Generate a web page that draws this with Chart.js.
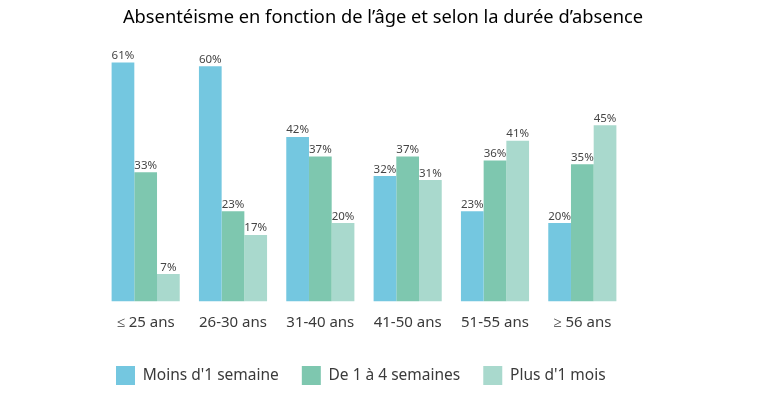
<!DOCTYPE html>
<html>
<head>
<meta charset="utf-8">
<script src="https://cdn.jsdelivr.net/npm/chart.js@4.4.1/dist/chart.umd.min.js"></script>
<style>
  html, body { margin: 0; padding: 0; background: #fff; }
  #zone { width: 778px; height: 399px; }
</style>
</head>
<body>
<div id="zone"><canvas id="absChart"></canvas></div>
<script>
// Tranches d'âge
const tranches = ['≤ 25 ans', '26-30 ans', '31-40 ans', '41-50 ans', '51-55 ans', '≥ 56 ans'];

// Durées d'absence (%)
const moinsUneSemaine = [61, 60, 42, 32, 23, 20];
const unAQuatreSemaines = [33, 23, 37, 37, 36, 35];
const plusUnMois = [7, 17, 20, 31, 41, 45];

const nomsSeries = ["Moins d'1 semaine", 'De 1 à 4 semaines', "Plus d'1 mois"];
const couleurs = ['#74c7e0', '#7ec7af', '#a9d9cd'];

// Étiquettes de valeur au-dessus des barres
const etiquettesValeurs = {
    id: 'etiquettesValeurs',
    afterDatasetsDraw(chart) {
        const ctx = chart.ctx;
        ctx.save();
        ctx.font = '11.5px "Noto Sans"';
        ctx.fillStyle = '#454545';
        ctx.textAlign = 'center';
        ctx.textBaseline = 'bottom';
        chart.data.datasets.forEach((ds, i) => {
            chart.getDatasetMeta(i).data.forEach((bar, j) => {
                ctx.fillText(ds.data[j] + '%', bar.x, bar.y - 1);
            });
        });
        ctx.restore();
    }
};

// Axe invisible, sert seulement à caler la zone du graphique
const axeMuet = (largeur, cote) => ({
    position: cote,
    grid: { display: false, drawTicks: false },
    border: { display: false },
    ticks: { display: false },
    afterFit(scale) { scale.width = largeur; }
});

const ctx = document.getElementById('absChart').getContext('2d');
new Chart(ctx, {
    type: 'bar',
    data: {
        labels: tranches,
        datasets: [
            { label: nomsSeries[0], data: moinsUneSemaine, backgroundColor: couleurs[0] },
            { label: nomsSeries[1], data: unAQuatreSemaines, backgroundColor: couleurs[1] },
            { label: nomsSeries[2], data: plusUnMois, backgroundColor: couleurs[2] }
        ]
    },
    options: {
        responsive: true,
        maintainAspectRatio: false,
        animation: false,
        layout: {
            padding: { left: 93, right: 105, top: 0, bottom: 4 }
        },
        datasets: {
            bar: {
                categoryPercentage: 0.78,
                barPercentage: 1.0,
                borderWidth: 0
            }
        },
        scales: {
            x: {
                grid: { display: false, drawTicks: false },
                border: { display: false },
                ticks: {
                    color: '#3a3a3a',
                    font: { family: 'Noto Sans', size: 15 },
                    padding: 12
                },
                afterFit(scale) { scale.height = 41.5; }
            },
            y: Object.assign(axeMuet(47, 'right'), { min: 0, max: 65 }),
            yGauche: axeMuet(9, 'left')
        },
        plugins: {
            title: {
                display: true,
                text: "Absentéisme en fonction de l’âge et selon la durée d’absence",
                color: '#000',
                font: { family: 'Noto Sans', size: 18.3, weight: 'normal' },
                padding: { top: 7, bottom: 17.8 }
            },
            legend: {
                position: 'bottom',
                align: 'start',
                labels: {
                    boxWidth: 19,
                    boxHeight: 19,
                    padding: 23,
                    color: '#3a3a3a',
                    font: { family: 'Noto Sans', size: 15.5 }
                }
            },
            tooltip: { enabled: false }
        }
    },
    plugins: [etiquettesValeurs]
});
</script>
</body>
</html>
